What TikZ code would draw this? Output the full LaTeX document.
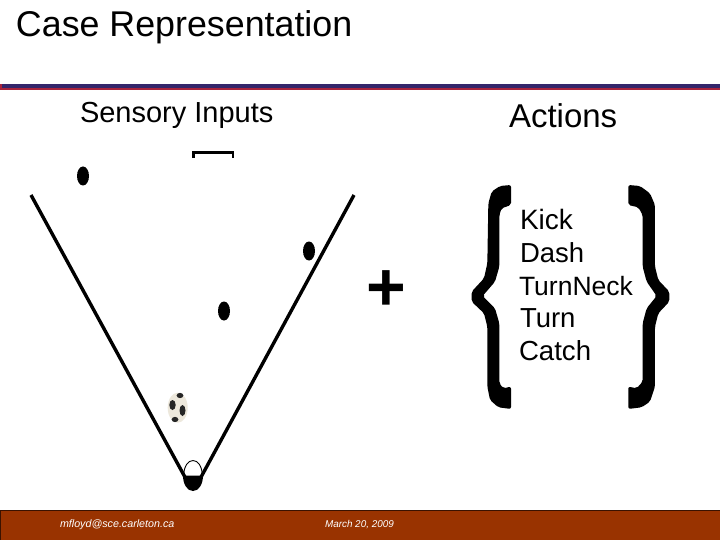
\documentclass[tikz,border=0pt]{standalone}
\usepackage{fontspec}
\setmainfont{Liberation Sans}
\definecolor{footerc}{HTML}{993300}
\definecolor{footeredge}{HTML}{3A1200}
\definecolor{rulenavy}{HTML}{33266B}
\definecolor{rulered}{HTML}{A8243C}
\definecolor{ballc}{HTML}{EDE8DC}
\newcommand{\fs}[1]{\fontsize{#1}{#1}\selectfont}
\tikzset{
  x=1pt,y=-1pt,
  lab/.style={anchor=base west,inner sep=0pt,outer sep=0pt,text=black},
  foot/.style={anchor=base west,inner sep=0pt,outer sep=0pt,text=white,font=\fs{#1}\itshape},
  sight/.style={line width=3.4pt,black},
  mark dot/.style={fill=black,draw=none},
  spot/.style={fill=black!85,draw=none},
}
\begin{document}
\begin{tikzpicture}
\useasboundingbox (0,0) rectangle (720,540);
\fill[white] (0,0) rectangle (720,540);
% rule and footer
\fill[rulenavy] (0,84) rectangle (720,88);
\fill[rulered] (0,88) rectangle (720,90);
\fill[rulered] (0,84) rectangle (1.5,90);
\fill[footerc] (0,510) rectangle (720,540);
\fill[footeredge] (0,510) rectangle (720,511);
\fill[footeredge] (0,510) rectangle (1,540);
% texts
\node[lab,font=\fs{35.8}] (title) at (16,37) {Case Representation};
\node[lab,font=\fs{29}] (sensory) at (80,123) {Sensory Inputs};
\node[lab,font=\fs{33}] (actions) at (509,127.5) {Actions};
\node[lab,font=\fs{28}] (kick) at (520,229.5) {Kick};
\node[lab,font=\fs{27.5}] (dash) at (520,262) {Dash};
\node[lab,font=\fs{26.5}] (neck) at (519,295) {TurnNeck};
\node[lab,font=\fs{27.5}] (turn) at (520,327) {Turn};
\node[lab,font=\fs{27.6}] (catch) at (519,360) {Catch};
\node[foot=10.7] (mail) at (60,527) {mfloyd@sce.carleton.ca};
\node[foot=9.9] (date) at (325,527) {March 20, 2009};
\node[anchor=center,inner sep=0pt,font=\fs{68}\bfseries] (plus) at (386,291) {+};
% field of view
\coordinate (vl) at (31,195);
\coordinate (vr) at (354,195);
\coordinate (al) at (186,479);
\coordinate (ar) at (200,479);
\draw[sight] (vl) -- (al);
\draw[sight] (vr) -- (ar);
% bracket
\draw[line width=2.2pt] (193.5,158) -- (193.5,152.5) -- (233,152.5) -- (233,158);
% players
\fill[mark dot] (83,176) ellipse[x radius=6,y radius=9.5];
\fill[mark dot] (309,251) ellipse[x radius=6,y radius=9.5];
\fill[mark dot] (224,311) ellipse[x radius=6,y radius=9.5];
% self
\fill[black] (183,475.5) -- (203,475.5) .. controls (203,484) and (199,491) .. (193,491) .. controls (187,491) and (183,484) .. (183,475.5) -- cycle;
\draw[line width=0.9pt] (183.5,476) .. controls (184,466) and (188,460.5) .. (193,460.5) .. controls (198,460.5) and (202,466) .. (202.5,476);
% ball
\fill[ballc] (177.7,407.7) ellipse[x radius=10,y radius=15];
\fill[spot] (172.5,405) ellipse[x radius=3.2,y radius=5];
\fill[spot] (182.5,410.5) ellipse[x radius=3,y radius=5.5];
\fill[spot] (180,395.5) ellipse[x radius=3.4,y radius=2.6];
\fill[spot] (175,419.5) ellipse[x radius=3.4,y radius=2.6];
% braces
\begin{scope}[shift={(460,170)},x=0.3333pt,y=-0.3333pt]
\fill[black,rounded corners=2pt] (153,45) -- (120,48) -- (95,65) -- (85,100) -- (82,280) -- (72,325) -- (35,365) -- (35,395) -- (72,430) -- (82,470) -- (82,650) -- (90,690) -- (115,712) -- (153,717) -- (153,650) -- (130,655) -- (118,640) -- (118,460) -- (105,415) -- (68,378) -- (105,335) -- (118,290) -- (118,135) -- (125,115) -- (153,105) -- cycle;
\fill[black,rounded corners=2pt] (505,45) -- (540,48) -- (570,70) -- (585,105) -- (585,290) -- (595,330) -- (628,365) -- (628,395) -- (595,430) -- (585,470) -- (585,650) -- (570,695) -- (545,712) -- (505,717) -- (505,650) -- (530,655) -- (548,635) -- (548,460) -- (560,415) -- (590,378) -- (560,335) -- (548,290) -- (548,135) -- (535,112) -- (505,105) -- cycle;
\end{scope}
\end{tikzpicture}
\end{document}
